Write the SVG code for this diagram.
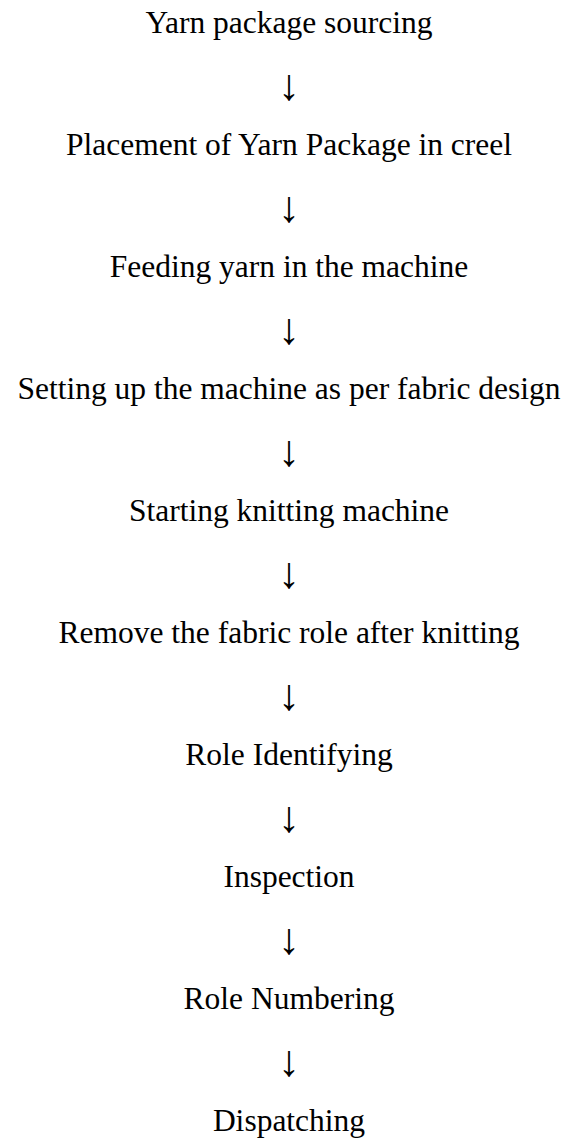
<svg xmlns="http://www.w3.org/2000/svg" width="571" height="1142" viewBox="0 0 571 1142">
<style>
text{font-family:"Liberation Serif","Times New Roman",serif;font-size:31.5px;fill:#000;text-anchor:middle}
#connectors text{font-size:44px}
</style>
<rect width="571" height="1142" fill="#fff"/>
<g id="n1"><text x="289" y="33">Yarn package sourcing</text></g>
<g id="n2"><text x="289" y="155">Placement of Yarn Package in creel</text></g>
<g id="n3"><text x="289" y="277">Feeding yarn in the machine</text></g>
<g id="n4"><text x="289" y="399">Setting up the machine as per fabric design</text></g>
<g id="n5"><text x="289" y="521">Starting knitting machine</text></g>
<g id="n6"><text x="289" y="643">Remove the fabric role after knitting</text></g>
<g id="n7"><text x="289" y="765">Role Identifying</text></g>
<g id="n8"><text x="289" y="887">Inspection</text></g>
<g id="n9"><text x="289" y="1009">Role Numbering</text></g>
<g id="n10"><text x="289" y="1131">Dispatching</text></g>
<g id="connectors">
<text x="289" y="100">↓</text>
<text x="289" y="222">↓</text>
<text x="289" y="344">↓</text>
<text x="289" y="466">↓</text>
<text x="289" y="588">↓</text>
<text x="289" y="710">↓</text>
<text x="289" y="832">↓</text>
<text x="289" y="954">↓</text>
<text x="289" y="1076">↓</text>
</g>
</svg>
